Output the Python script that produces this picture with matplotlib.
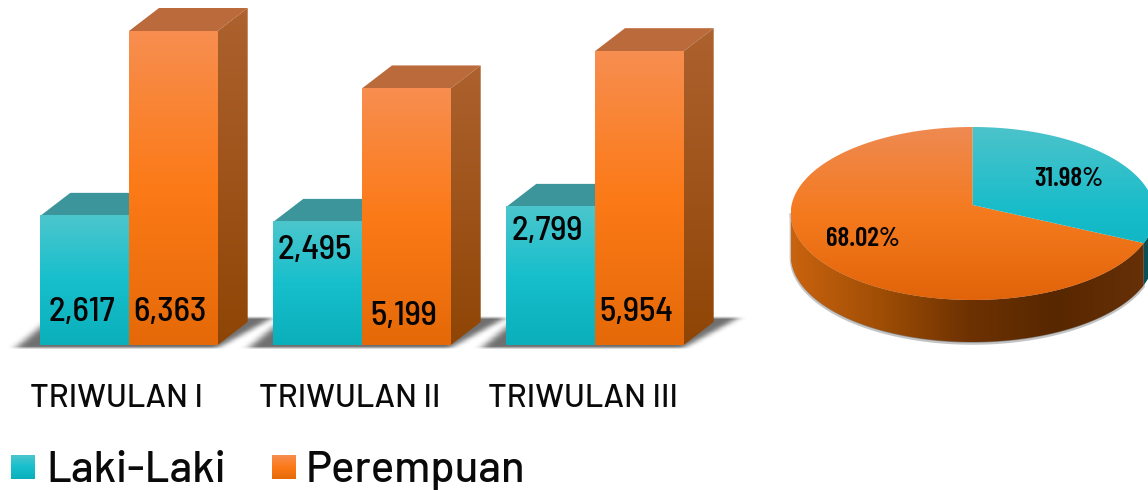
import numpy as np
from matplotlib import pyplot as plt
from matplotlib.colors import LinearSegmentedColormap
from matplotlib.patches import Polygon

#data
categories=['TRIWULAN I','TRIWULAN II','TRIWULAN III']
laki=[2617,2495,2799]
perempuan=[6363,5199,5954]
value_labels_laki=['2,617','2,495','2,799']
value_labels_perempuan=['6,363','5,199','5,954']
pie_names=['Laki-Laki','Perempuan']
pie_share=[31.98,68.02]

W,H=1148,490
TEXT=['Barlow','Roboto']
NARROW=['Barlow Semi Condensed','Roboto']
NARROWER=['Barlow Condensed','Roboto']

#colours
teal=['#4cc6cd','#17bfcc','#0aafba']
orange=['#f78e50','#fc7a17','#e56908']
teal_top='#3c959a'
orange_top='#ba6a3b'
orange_side=['#ad622f','#8f4505']
pie_teal=['#4cc3ca','#16bccb','#0cadb6']
pie_orange=['#ee8a52','#f57a1e','#e2640a']
pie_side=['#c9630f','#a04e05','#6e3202','#572700','#673007']

def gradient(ax,extent,colors,clip=None,vertical=True,zorder=2):
    cmap=LinearSegmentedColormap.from_list('g',colors)
    g=np.linspace(0,1,256)
    g=g.reshape(-1,1) if vertical else g.reshape(1,-1)
    im=ax.imshow(g,cmap=cmap,extent=extent,aspect='auto',origin='upper',
                 vmin=0,vmax=1,zorder=zorder,interpolation='bilinear')
    if clip is not None:
        patch=Polygon(clip,closed=True,transform=ax.transData,fc='none',ec='none')
        ax.add_patch(patch)
        im.set_clip_path(patch)
    return im

fig=plt.figure(figsize=(W/100,H/100),dpi=100)

#background layer in pixels: floor shadow and legend squares
bg=fig.add_axes([0,0,1,1])
bg.set_xlim(0,W)
bg.set_ylim(H,0)
bg.axis('off')

yy,xx=np.mgrid[0:H,0:W]
shadow=np.zeros((H,W))
for x0 in [40,273,506]:
    t=np.clip((347-yy)/30,0,1)
    inside=(yy>=318)&(yy<=347)&(xx>=x0-24+t*36)&(xx<=x0+178+t*55)
    shadow=np.maximum(shadow,inside*1.0)
kernel=np.ones(9)/9
for n in range(3):
    shadow=np.apply_along_axis(lambda r:np.convolve(r,kernel,mode='same'),1,shadow)
kernel=np.ones(3)/3
shadow=np.apply_along_axis(lambda r:np.convolve(r,kernel,mode='same'),0,shadow)
rgba=np.zeros((H,W,4))
rgba[...,:3]=0.3
rgba[...,3]=shadow*0.8
bg.imshow(rgba,extent=(0,W,H,0),aspect='auto',zorder=1)
bg.set_xlim(0,W)
bg.set_ylim(H,0)

#bars
PX_X=233.0
PX_Y=314/6363
ax=fig.add_axes([0,(H-345)/H,760/W,345/H])
ax.patch.set_alpha(0)
xlim=(-129/PX_X,(760-129)/PX_X)
ylim=(0,345/PX_Y)
bw=88.7/PX_X
dx=30/PX_X
dy=23/PX_Y
label_y=[[312,312],[251,317],[231,312]]

for i in range(len(categories)):
    for j,(v,txt,front,top,side) in enumerate([
            (laki[i],value_labels_laki[i],teal,teal_top,None),
            (perempuan[i],value_labels_perempuan[i],orange,orange_top,orange_side)]):
        x0=i-bw+j*bw
        x1=x0+bw
        ax.add_patch(Polygon([(x0,v),(x0+dx,v+dy),(x1+dx,v+dy),(x1,v)],fc=top,ec='none',zorder=2))
        if side is not None:
            gradient(ax,(x1,x1+dx,0,v+dy),side,
                     clip=[(x1,0),(x1+dx,dy),(x1+dx,v+dy),(x1,v)],zorder=2)
        gradient(ax,(x0,x1,0,v),front,zorder=3)
        ax.text((x0+x1)/2-3/PX_X,(345-label_y[i][j])/PX_Y,txt,ha='center',va='center',
                fontsize=25,family=NARROW,color='#050505',fontweight=500,zorder=5)

ax.set_xlim(*xlim)
ax.set_ylim(*ylim)
ax.set_yticks([])
ax.set_xticks([i-12/PX_X for i in range(3)])
ax.set_xticklabels(categories,fontsize=23.5,family=TEXT,fontweight=500,color='#0a0a0a')
ax.tick_params(axis='x',length=0,pad=28)
for s in ax.spines.values():
    s.set_visible(False)

#pie
cx,cy,rx,ry=972.7,213.5,182.0,86.5
ax2=fig.add_axes([770/W,(H-360)/H,(W-770)/W,250/H])
ax2.axis('off')
apex=8.5/ry
depth=42/ry

#ray from the apex for the end of the first slice, up to the ellipse
a=np.deg2rad(pie_share[0]*3.6)
ux,uy=np.sin(a),np.cos(a)
b=uy*apex
s=-b+np.sqrt(b*b-(apex*apex-1))
ex,ey=ux*s,apex+uy*s
t_end=np.arctan2(ey,ex)

t_teal=np.linspace(np.pi/2,t_end,80)
t_orange=np.linspace(t_end,-3*np.pi/2,240)
teal_poly=[(0,apex)]+list(zip(np.cos(t_teal),np.sin(t_teal)))
orange_poly=[(0,apex)]+list(zip(np.cos(t_orange),np.sin(t_orange)))

#side walls and soft edge
t_low=np.linspace(-np.pi,t_end,200)
low_x,low_y=np.cos(t_low),np.sin(t_low)
side_poly=list(zip(low_x,low_y))+list(zip(low_x[::-1],low_y[::-1]-depth))
edge_poly=list(zip(low_x,low_y))+list(zip(low_x[::-1],low_y[::-1]-depth-0.02))
ax2.add_patch(Polygon(edge_poly,fc='#8a8a8a',ec='#c4c4c4',lw=1.5,zorder=1))
gradient(ax2,(-1,ex,-2,1),pie_side,clip=side_poly,vertical=False,zorder=2)
t_right=np.linspace(t_end,0,40)
r_x,r_y=np.cos(t_right),np.sin(t_right)
ax2.add_patch(Polygon(list(zip(r_x,r_y))+list(zip(r_x[::-1],r_y[::-1]-depth)),fc='#0b4f55',ec='none',zorder=2))
gradient(ax2,(-1,1.1,-1,1),pie_orange,clip=orange_poly,zorder=3)
gradient(ax2,(-1,1.1,-1,1),pie_teal,clip=teal_poly,zorder=3)

ax2.text((1069-cx)/rx,(cy-179)/ry,f'{pie_share[0]:.2f}%',ha='center',va='center',
         fontsize=19.5,family=NARROWER,fontweight=600,color='#050505',zorder=5)
ax2.text((863-cx)/rx,(cy-239)/ry,f'{pie_share[1]:.2f}%',ha='center',va='center',
         fontsize=19.5,family=NARROWER,fontweight=600,color='#050505',zorder=5)
ax2.set_xlim((770-cx)/rx,(W-cx)/rx)
ax2.set_ylim((cy-360)/ry,(cy-110)/ry)

#legend
for name,colors,x0,xt in [(pie_names[0],teal,11,46),(pie_names[1],orange,271.5,306)]:
    gradient(bg,(x0,x0+24,479,455),colors,zorder=3)
    bg.text(xt,482,name,ha='left',va='baseline',fontsize=31.5,family=TEXT,fontweight=500,color='#0a0a0a',zorder=4)
bg.set_xlim(0,W)
bg.set_ylim(H,0)

plt.savefig('out.png',dpi=100)
print("Done!!!")
